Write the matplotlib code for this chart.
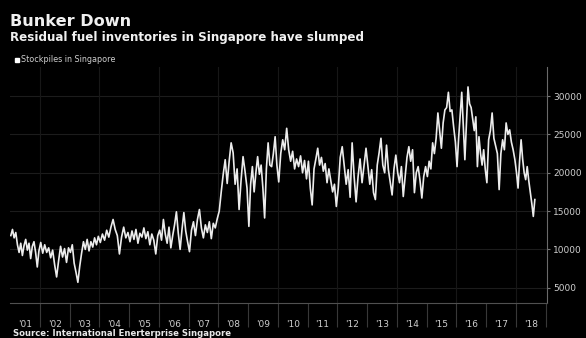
import numpy as np
import matplotlib.pyplot as plt
from matplotlib.patches import Rectangle

# stockpiles, grouped by calendar year (evenly spread inside each year)
years = list(range(2001, 2019))
last_month = 8  # data runs to about Aug 2018

stocks_2001 = [11800, 12600, 11500, 12200, 10600, 9600, 10800, 9200, 10500, 11300,
               9900, 10800, 8800, 10400, 11000, 9600, 7700, 9800]
stocks_2002 = [10900, 9500, 10600, 9600, 10200, 8900, 9900, 8000, 6400, 8500,
               10400, 9000, 10100, 8300, 10200]
stocks_2003 = [9600, 10600, 8200, 7000, 5700, 7800, 9500, 11000, 10000, 11300,
               9800, 11000, 10300, 11500, 10600, 11700]
stocks_2004 = [10900, 12000, 11200, 12500, 11600, 12900, 13900, 12600, 11800, 9400,
               11600, 12900, 11500, 12200]
stocks_2005 = [11000, 12400, 11300, 12600, 10800, 12100, 11600, 12800, 11400, 12300,
               10600, 12000, 11200, 9400, 11800]
stocks_2006 = [12500, 11200, 13900, 12000, 10800, 12900, 10200, 11800, 13200, 14900,
               12100, 10000, 12600, 14800, 12400, 11000]
stocks_2007 = [9700, 12500, 13600, 11800, 13900, 15200, 12800, 11500, 13200, 12200,
               13600, 11400, 13400, 12800, 14000]
stocks_2008 = [15000, 17500, 19800, 21700, 18600, 21500, 23900, 22600, 18500, 20500,
               15200, 19000, 22100, 20200, 18000]
stocks_2009 = [13000, 18500, 20800, 17500, 20000, 22100, 19800, 21000, 18000, 14100,
               20500, 23900, 21000, 20800, 22500, 24700, 21000]
stocks_2010 = [18800, 22500, 24300, 23000, 25800, 23000, 21500, 22800, 20500, 21800,
               20800, 22200, 20000, 21600, 19200]
stocks_2011 = [21500, 18000, 15800, 20500, 21800, 23200, 21000, 22000, 20200, 21200,
               18700, 20500, 19000, 17500, 18500, 15600]
stocks_2012 = [18000, 22000, 23400, 21000, 18500, 20400, 16800, 23900, 19500, 16200,
               19500, 21800, 18700, 21000, 23200]
stocks_2013 = [20800, 18500, 20400, 17400, 16500, 21000, 22600, 24500, 21000, 20000,
               23600, 20400, 18700, 17100, 20500, 22300]
stocks_2014 = [20000, 18700, 20800, 16900, 19500, 22000, 23400, 21500, 23000, 17400,
               20000, 20800, 19000, 16700, 19500, 20800]
stocks_2015 = [19500, 21500, 20500, 23900, 22500, 24500, 27800, 25500, 23200, 26500,
               28200, 28500, 30500, 28000, 28200, 26000, 24000]
stocks_2016 = [20800, 24500, 27500, 30500, 26000, 21700, 26500, 31200, 29000, 28500,
               27000, 25500, 27300, 20800, 24700, 22500, 21000, 23000, 20500]
stocks_2017 = [18700, 24300, 25500, 27800, 24500, 23500, 22500, 17800, 22500, 24300,
               23000, 26500, 25000, 25600, 24000, 23000, 21700]
stocks_2018 = [20000, 18000, 21500, 24300, 21800, 20000, 19100, 20800, 19000, 17500,
               16000, 14300, 16500]

tick_labels = ["'01", "'02", "'03", "'04", "'05", "'06", "'07", "'08", "'09",
               "'10", "'11", "'12", "'13", "'14", "'15", "'16", "'17", "'18"]
y_ticks = [5000, 10000, 15000, 20000, 25000, 30000]

by_year = [stocks_2001, stocks_2002, stocks_2003, stocks_2004, stocks_2005, stocks_2006,
           stocks_2007, stocks_2008, stocks_2009, stocks_2010, stocks_2011, stocks_2012,
           stocks_2013, stocks_2014, stocks_2015, stocks_2016, stocks_2017, stocks_2018]

t, v = [], []
for yr, vals in zip(years, by_year):
    span = last_month / 12 if yr == years[-1] else 1.0
    n = len(vals)
    t += [yr + (k + 0.5) / n * span for k in range(n)]
    v += vals

W, H = 586, 338
fig = plt.figure(figsize=(W / 100, H / 100), dpi=100, facecolor='black')
ax = fig.add_axes([10 / W, 1 - 303 / H, 537 / W, 236 / H], facecolor='black')

ax.plot(t, v, color='#ececec', lw=1.2)

ax.set_xlim(2001.0, 2019.05)
ax.set_ylim(3000, 33800)

# grid: horizontal every 5000, vertical every 2 years
for y in y_ticks:
    ax.axhline(y, color='#1c1c1c', lw=0.8, zorder=0)
for yr in range(2002, 2019, 2):
    ax.axvline(yr, color='#171717', lw=0.8, zorder=0)

ax.yaxis.tick_right()
ax.set_yticks(y_ticks)
ax.set_yticklabels([str(y) for y in y_ticks])
ax.tick_params(axis='y', colors='#777777', labelcolor='#cfcfcf', labelsize=6.5,
               length=2.5, width=0.8, pad=2)

ax.set_xticks([yr + 0.5 for yr in years])
ax.set_xticklabels(tick_labels)
ax.set_xticks(list(range(2002, 2020)), minor=True)
ax.tick_params(axis='x', which='major', length=0, labelcolor='#cfcfcf',
               labelsize=6.5, pad=12)
ax.tick_params(axis='x', which='minor', length=17, width=0.8, color='#383838')

for s in ['top', 'left']:
    ax.spines[s].set_visible(False)
ax.spines['bottom'].set_color('#505050')
ax.spines['bottom'].set_linewidth(0.8)
ax.spines['right'].set_color('#6a6a6a')
ax.spines['right'].set_linewidth(0.8)

fig.text(10 / W, 1 - 26.5 / H, 'Bunker Down', color='#f0f0f0', fontsize=11.6,
         fontweight='bold', va='baseline', ha='left')
fig.text(10 / W, 1 - 40.5 / H, 'Residual fuel inventories in Singapore have slumped',
         color='#f0f0f0', fontsize=8.6, fontweight='bold', va='baseline', ha='left')
fig.patches.append(Rectangle((15 / W, 1 - 61.5 / H), 4 / W, 4 / H,
                             transform=fig.transFigure, color='white'))
fig.text(21 / W, 1 - 62 / H, 'Stockpiles in Singapore', color='#cfcfcf',
         fontsize=5.8, va='baseline', ha='left')
fig.text(13 / W, 1 - 336 / H, 'Source: International Enerterprise Singapore',
         color='#e8e8e8', fontsize=6.1, fontweight='bold', va='baseline', ha='left')

fig.savefig('out.png', dpi=100, facecolor='black')
